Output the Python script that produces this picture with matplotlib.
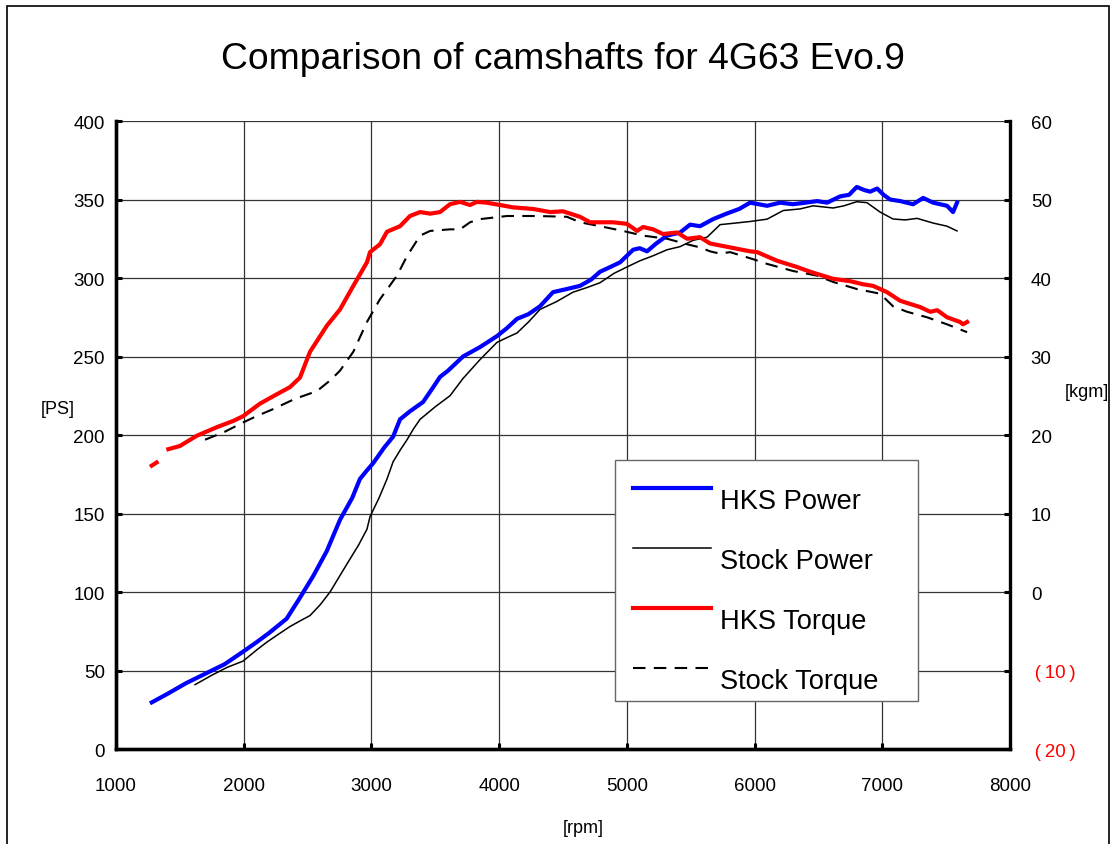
import numpy as np
import matplotlib

matplotlib.use("Agg")
import matplotlib.pyplot as plt
from matplotlib.lines import Line2D
from matplotlib.patches import Rectangle

plt.rcParams["font.family"] = ["Liberation Sans", "DejaVu Sans"]

TITLE = "Comparison of camshafts for 4G63 Evo.9"

# HKS camshaft power [PS]
hks_power_rpm = [
    1280, 1400, 1550, 1700, 1850, 1995, 2100, 2200, 2336, 2430, 2543, 2650, 2754, 2850,
    2910, 2960, 3013, 3100, 3170, 3224, 3300, 3404, 3480, 3537, 3600, 3717, 3850, 3983,
    4060, 4140, 4230, 4320, 4422, 4530, 4633, 4720, 4790, 4870, 4947, 5049, 5100, 5158,
    5230, 5315, 5417, 5495, 5573, 5675, 5780, 5880, 5965, 6098, 6200, 6300, 6400, 6490,
    6568, 6670, 6740, 6800, 6860, 6905, 6960, 7010, 7061, 7140, 7241, 7320, 7398, 7507,
    7554, 7585,
]
hks_power_ps = [
    29.7, 35, 42, 48, 54, 62, 68, 74, 83, 95, 110, 126, 146, 160,
    172, 177, 182, 192, 199, 210, 215, 221, 230, 237, 241, 250, 256, 263,
    268, 274, 277, 282, 291, 293, 295, 299, 304, 307, 310, 318, 319, 317,
    322, 327, 329, 334, 333, 337.5, 341, 344, 348, 346, 348, 347, 348, 349,
    348, 352, 353, 358, 356, 355, 357, 353, 350, 349, 347, 351, 348, 346,
    342, 348,
]

# stock camshaft power [PS]
stock_power_rpm = [
    1619, 1750, 1870, 1995, 2100, 2180, 2270, 2362, 2450, 2519, 2600, 2676, 2750, 2832,
    2900, 2965, 2989, 3060, 3122, 3170, 3230, 3279, 3330, 3381, 3500, 3615, 3717, 3850,
    3983, 4060, 4140, 4230, 4320, 4450, 4579, 4690, 4790, 4900, 5000, 5103, 5200, 5315,
    5417, 5518, 5628, 5730, 5850, 5965, 6098, 6225, 6356, 6458, 6615, 6700, 6800, 6880,
    6983, 7084, 7180, 7272, 7398, 7507, 7585,
]
stock_power_ps = [
    41, 47, 52, 56, 63, 68, 73, 78, 82, 85, 92, 100, 110, 121,
    130, 140, 148, 160, 172, 183, 191, 197, 204, 210, 218, 225, 236, 248,
    259, 262, 265, 272, 280, 285, 291, 294, 297, 303, 307, 311, 314, 318,
    320, 324, 326, 334, 335, 336, 337.5, 343, 344, 346, 344.6, 346, 348.6, 348,
    342, 337.6, 337, 338, 335, 333, 330,
]

# HKS camshaft torque [kgm]; the trace has a short break near 1350 rpm
hks_torque_rpm = [
    1280, 1318, 1360, 1410, 1500, 1632, 1790, 1919, 1995, 2128, 2260, 2362, 2440, 2519,
    2650, 2754, 2858, 2965, 2989, 3067, 3122, 3224, 3302, 3381, 3460, 3537, 3615, 3694,
    3772, 3827, 3900, 4007, 4109, 4265, 4400, 4500, 4633, 4712, 4892, 5000, 5080, 5127,
    5206, 5283, 5393, 5472, 5573, 5651, 5808, 5965, 6020, 6176, 6333, 6435, 6615, 6748,
    6850, 6928, 7037, 7140, 7296, 7375, 7430, 7507, 7609, 7632, 7664,
]
hks_torque_kgm = [
    16.1, 16.5, np.nan, 18.2, 18.6, 19.9, 21, 21.8, 22.4, 24, 25.2, 26.1, 27.3, 30.6,
    33.9, 36, 39, 42, 43.3, 44.3, 45.9, 46.6, 47.9, 48.4, 48.2, 48.4, 49.4, 49.7,
    49.3, 49.7, 49.6, 49.3, 49, 48.8, 48.4, 48.5, 47.8, 47.1, 47.1, 46.9, 46, 46.5,
    46.2, 45.6, 45.8, 45, 45.2, 44.4, 43.9, 43.4, 43.3, 42.2, 41.4, 40.8, 39.9, 39.6,
    39.2, 39, 38.2, 37.1, 36.3, 35.7, 35.9, 35, 34.4, 34.1, 34.4,
]

# stock camshaft torque [kgm]
stock_torque_rpm = [
    1697, 1850, 1995, 2100, 2230, 2400, 2574, 2680, 2754, 2858, 2965, 3067, 3200, 3279,
    3381, 3460, 3615, 3694, 3772, 3850, 4061, 4300, 4531, 4633, 4790, 4970, 5127, 5315,
    5472, 5573, 5651, 5730, 5808, 5988, 6098, 6300, 6490, 6615, 6800, 6983, 7084, 7194,
    7350, 7507, 7664,
]
stock_torque_kgm = [
    19.4, 20.4, 21.6, 22.4, 23.3, 24.6, 25.6, 27, 28.2, 30.6, 34.4, 37.3, 40.3, 42.8,
    45.4, 46, 46.2, 46.2, 47.1, 47.5, 47.9, 47.9, 47.8, 47.1, 46.6, 46, 45.4, 45,
    44.3, 43.9, 43.4, 43.1, 43.3, 42.4, 41.8, 40.9, 40.3, 39.5, 38.6, 38, 36.4, 35.7,
    35, 34.1, 33.1,
]

rpm_ticks = [1000, 2000, 3000, 4000, 5000, 6000, 7000, 8000]
ps_ticks = [0, 50, 100, 150, 200, 250, 300, 350, 400]
kgm_ticks = [-20, -10, 0, 10, 20, 30, 40, 50, 60]
kgm_tick_labels = [
    "\u2009(\u200920\u2009)", "\u2009(\u200910\u2009)", "0", "10", "20", "30", "40", "50", "60",
]

series_labels = ["HKS Power", "Stock Power", "HKS Torque", "Stock Torque"]

DASHES = (6, 4)


def style_axis(ax, side: str) -> None:
    for name, spine in ax.spines.items():
        spine.set_visible(name in ("bottom", side))
        spine.set_linewidth(2.4)
        spine.set_color("black")
    ax.tick_params(axis="both", direction="in", length=4, width=2.2, labelsize=13.5, colors="black")


def main() -> None:
    fig = plt.figure(figsize=(11.11, 8.45), dpi=100)
    ax = fig.add_axes([0.1044, 0.1124, 0.8047, 0.7432])

    ax.set_xlim(1000, 8000)
    ax.set_ylim(0, 400)
    ax.set_xticks(rpm_ticks)
    ax.set_yticks(ps_ticks)
    ax.grid(True, color="#333333", linewidth=0.9)
    ax.set_axisbelow(True)
    style_axis(ax, "left")
    ax.tick_params(axis="x", pad=20)
    ax.tick_params(axis="y", pad=8)

    ax.plot(stock_power_rpm, stock_power_ps, color="black", linewidth=1.1, zorder=3)
    ax.plot(hks_power_rpm, hks_power_ps, color="#0000ff", linewidth=3.0, zorder=4)

    ax2 = ax.twinx()
    ax2.set_ylim(-20, 60)
    ax2.set_yticks(kgm_ticks)
    ax2.set_yticklabels(kgm_tick_labels)
    style_axis(ax2, "right")
    ax2.spines["left"].set_visible(True)
    ax2.spines["left"].set_linewidth(2.4)
    ax2.tick_params(axis="y", pad=15)
    for value, label in zip(kgm_ticks, ax2.get_yticklabels()):
        if value < 0:
            label.set_color("red")

    ax2.plot(stock_torque_rpm, stock_torque_kgm, color="black", linewidth=1.5,
             dashes=DASHES, zorder=3)
    ax2.plot(hks_torque_rpm, hks_torque_kgm, color="#ff0000", linewidth=3.0, zorder=4)

    handles = [
        Line2D([], [], color="#0000ff", linewidth=3.0),
        Line2D([], [], color="black", linewidth=1.1),
        Line2D([], [], color="#ff0000", linewidth=3.0),
        Line2D([], [], color="black", linewidth=1.5, dashes=DASHES),
    ]
    legend = ax2.legend(
        handles, series_labels,
        loc="upper left", bbox_to_anchor=(0.558, 0.4602, 0.339, 0.0), mode="expand",
        borderaxespad=0.0, fontsize=19.6, frameon=True, fancybox=False,
        handlelength=2.9, handletextpad=0.3, labelspacing=1.25, borderpad=0.65,
    )
    frame = legend.get_frame()
    frame.set_edgecolor("#666666")
    frame.set_linewidth(1.0)
    frame.set_alpha(1.0)
    # the reference puts each sample line above the middle of its label
    for text in legend.get_texts():
        text.set_y(-10)

    fig.text(0.507, 0.929, TITLE, fontsize=26.8, ha="center", va="center")
    fig.text(0.052, 0.515, "[PS]", fontsize=13, ha="center", va="center")
    fig.text(0.978, 0.535, "[kgm]", fontsize=13, ha="center", va="center")
    fig.text(0.525, 0.020, "[rpm]", fontsize=13, ha="center", va="center")

    fig.patches.append(Rectangle((7 / 1111, -0.05), 1102 / 1111, 1.05 - 7 / 845,
                                 transform=fig.transFigure, fill=False,
                                 edgecolor="black", linewidth=1.2))

    fig.savefig("out.png", dpi=100)
    plt.close(fig)


if __name__ == "__main__":
    main()
